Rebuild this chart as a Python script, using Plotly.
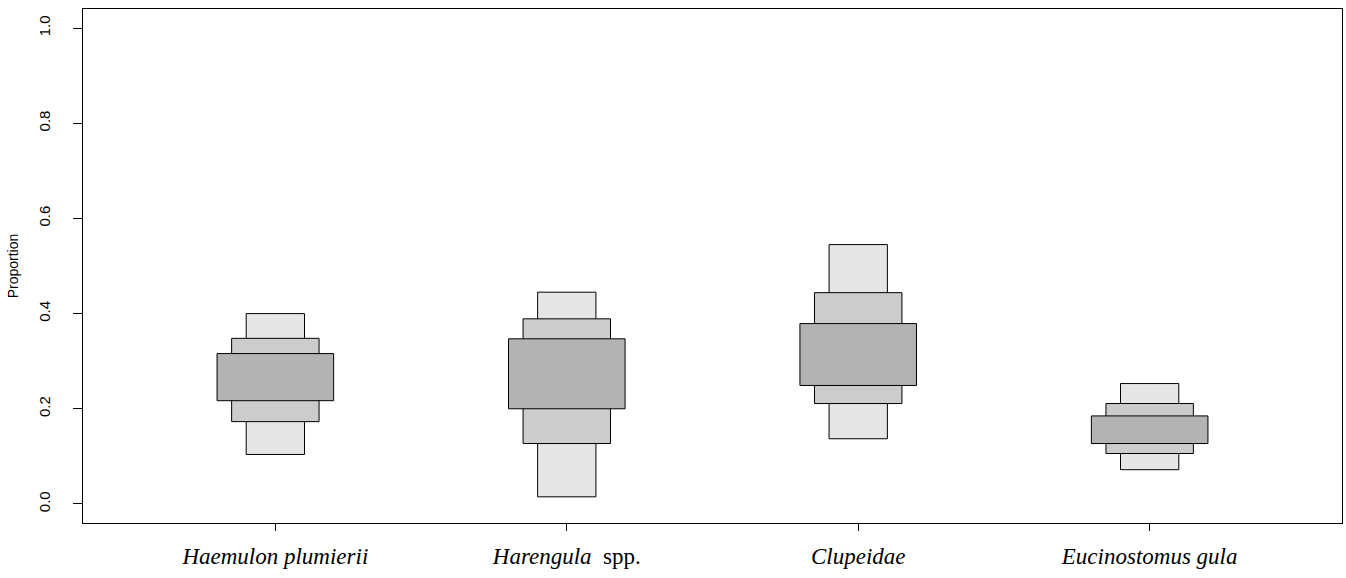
import plotly.graph_objects as go

# ── Data ──────────────────────────────────────────────────────
species = [
    "<i>Haemulon plumierii</i>",
    "<i>Harengula</i>&nbsp;&nbsp;spp.",
    "<i>Clupeidae</i>",
    "<i>Eucinostomus gula</i>",
]
positions = [1, 2, 3, 4]

# outer (lightest) interval
outer_lo = [0.104, 0.015, 0.137, 0.072]
outer_hi = [0.400, 0.445, 0.545, 0.253]
# middle interval
mid_lo = [0.173, 0.127, 0.211, 0.106]
mid_hi = [0.348, 0.389, 0.444, 0.211]
# inner (darkest) interval
inner_lo = [0.217, 0.200, 0.249, 0.127]
inner_hi = [0.316, 0.347, 0.379, 0.185]

LEVELS = [
    (outer_lo, outer_hi, 0.2, "#E6E6E6"),
    (mid_lo,   mid_hi,   0.3, "#CCCCCC"),
    (inner_lo, inner_hi, 0.4, "#B3B3B3"),
]

fig = go.Figure()

for lo, hi, w, col in LEVELS:
    fig.add_trace(go.Bar(
        x=positions,
        base=lo,
        y=[h - l for h, l in zip(hi, lo)],
        width=[w] * len(positions),
        marker=dict(color=col, line=dict(color="black", width=1)),
        showlegend=False,
        hoverinfo="skip",
    ))

fig.update_layout(
    barmode="overlay",
    width=1346,
    height=578,
    paper_bgcolor="white",
    plot_bgcolor="white",
    margin=dict(l=83, r=4, t=9, b=55),
    font=dict(family="Liberation Sans, Arial", color="black", size=14),
)

fig.update_xaxes(
    range=[0.34, 4.66],
    tickmode="array",
    tickvals=positions,
    ticktext=species,
    tickfont=dict(family="Liberation Serif", size=23, color="black"),
    ticks="outside",
    ticklen=7,
    tickcolor="black",
    ticklabelstandoff=5,
    showline=True,
    linecolor="black",
    linewidth=1,
    mirror=True,
    showgrid=False,
    zeroline=False,
    automargin=False,
)

fig.update_yaxes(
    range=[-0.04, 1.04],
    tickmode="array",
    tickvals=[0, 0.2, 0.4, 0.6, 0.8, 1.0],
    ticktext=["0.0", "0.2", "0.4", "0.6", "0.8", "1.0"],
    tickangle=-90,
    tickfont=dict(size=15, color="black"),
    ticks="outside",
    ticklen=9,
    tickcolor="black",
    ticklabelstandoff=17,
    showline=True,
    linecolor="black",
    linewidth=1,
    mirror=True,
    showgrid=False,
    zeroline=False,
    automargin=False,
    title=dict(text="Proportion", font=dict(size=14), standoff=14),
)

# page body has an 8px default margin; drop it so the figure sits at 0,0
fig.write_html(
    "out.html",
    config={"displayModeBar": False},
    post_script="document.body.style.margin='0';",
)
